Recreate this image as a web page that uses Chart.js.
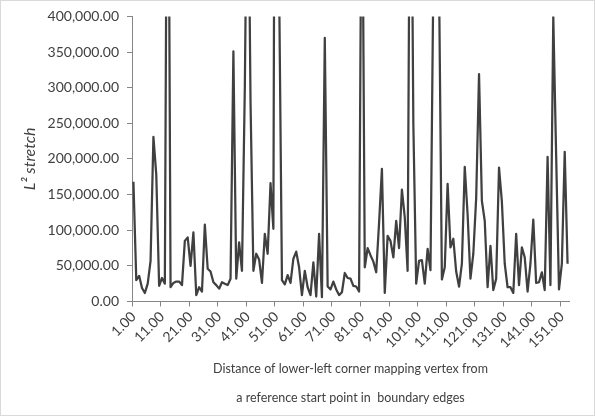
<!DOCTYPE html>
<html>
<head>
<meta charset="utf-8">
<script src="https://cdn.jsdelivr.net/npm/chart.js@4.4.1/dist/chart.umd.min.js"></script>
<style>
  html, body { margin: 0; padding: 0; background: #fff; }
  canvas { display: block; }
</style>
</head>
<body>
<canvas id="stretchChart" width="595" height="416"></canvas>
<script>
// L2 stretch per start vertex (values above 400,000 run off the top of the plot)
const stretch = [
  168000, 30000, 36000, 19000, 12000, 25000, 57000, 231000, 178000, 22000,
  33000, 25000, 900000, 20000, 26000, 28000, 28000, 23000, 85000, 90000,
  50000, 97000, 9000, 20000, 14000, 108000, 46000, 42000, 27000, 23000,
  18000, 27000, 25000, 23000, 32000, 351000, 32000, 83000, 43000, 300000,
  700000, 280000, 43000, 67000, 59000, 26000, 95000, 67000, 166000, 102000,
  1500000, 450000, 30000, 24000, 37000, 26000, 60000, 70000, 48000, 9000,
  43000, 20000, 9000, 55000, 7000, 95000, 6000, 370000, 21000, 17000,
  28000, 17000, 9000, 13000, 40000, 33000, 32000, 22000, 21000, 14000,
  700000, 48000, 75000, 65000, 56000, 41000, 110000, 186000, 12000, 92000,
  85000, 62000, 113000, 75000, 157000, 118000, 43000, 800000, 250000, 25000,
  57000, 58000, 25000, 74000, 44000, 450000, 1500000, 450000, 31000, 48000,
  165000, 76000, 88000, 42000, 21000, 53000, 189000, 122000, 32000, 67000,
  145000, 319000, 141000, 113000, 20000, 78000, 16000, 32000, 188000, 140000,
  53000, 20000, 20000, 12000, 95000, 23000, 76000, 62000, 14000, 53000,
  115000, 26000, 27000, 41000, 16000, 203000, 23000, 400000, 205000, 17000,
  53000, 210000, 53000
];
const categories = stretch.map((v, i) => i + 1);
const xTickLabels = ['1.00', '11.00', '21.00', '31.00', '41.00', '51.00', '61.00', '71.00',
  '81.00', '91.00', '101.00', '111.00', '121.00', '131.00', '141.00', '151.00'];
const yTicks = [0, 50000, 100000, 150000, 200000, 250000, 300000, 350000, 400000];

const axisColor = '#868686';
const textColor = '#404040';

const frame = {
  id: 'frame',
  afterDraw(chart) {
    const c = chart.ctx;
    c.save();
    c.strokeStyle = '#d9d9d9';
    c.lineWidth = 1;
    c.strokeRect(0.5, 0.5, chart.width - 1, chart.height - 1);
    c.restore();
  }
};

document.addEventListener('DOMContentLoaded', function() {
  const ctx = document.getElementById('stretchChart');
  new Chart(ctx, {
    type: 'line',
    data: {
      labels: categories,
      datasets: [{
        data: stretch,
        borderColor: '#404040',
        borderWidth: 2.25,
        borderJoinStyle: 'round',
        pointRadius: 0,
        tension: 0,
        clip: 0
      }]
    },
    options: {
      responsive: false,
      animation: false,
      layout: { padding: { top: 13, right: 26, left: 0, bottom: 0 } },
      plugins: { legend: { display: false }, tooltip: { enabled: false } },
      scales: {
        x: {
          type: 'category',
          offset: true,
          afterFit(scale) { scale.height = 114.5; },
          grid: {
            offset: true,
            drawOnChartArea: false,
            tickLength: 5,
            color: c => (c.index % 10 === 0 ? axisColor : 'rgba(0,0,0,0)')
          },
          border: { color: axisColor, width: 1 },
          ticks: {
            autoSkip: false,
            minRotation: 45,
            maxRotation: 45,
            padding: 2,
            color: textColor,
            font: { family: 'Lato', size: 14 },
            callback: (v, i) => (i % 10 === 0 ? xTickLabels[i / 10] : '')
          },
          title: {
            display: true,
            text: ['Distance of lower-left corner mapping vertex from',
                   'a reference start point in  boundary edges'],
            color: textColor,
            font: { family: 'Lato', size: 12.5, lineHeight: '29px' },
            padding: { top: 0, bottom: 3.5 }
          }
        },
        y: {
          min: 0,
          max: 400000,
          afterFit(scale) { scale.width = 132; },
          afterBuildTicks(scale) { scale.ticks = yTicks.map(v => ({ value: v })); },
          grid: { drawOnChartArea: false, tickLength: 5, color: axisColor },
          border: { color: axisColor, width: 1 },
          ticks: {
            padding: 8,
            color: textColor,
            font: { family: 'Lato', size: 14 },
            callback: v => v.toLocaleString('en-US', { minimumFractionDigits: 2, maximumFractionDigits: 2 })
          },
          title: {
            display: true,
            text: 'L\u00B2 stretch',
            color: textColor,
            font: { family: 'Lato', size: 16, style: 'italic' },
            padding: { top: 20, bottom: 0 }
          }
        }
      }
    },
    plugins: [frame]
  });
});
</script>
</body>
</html>
